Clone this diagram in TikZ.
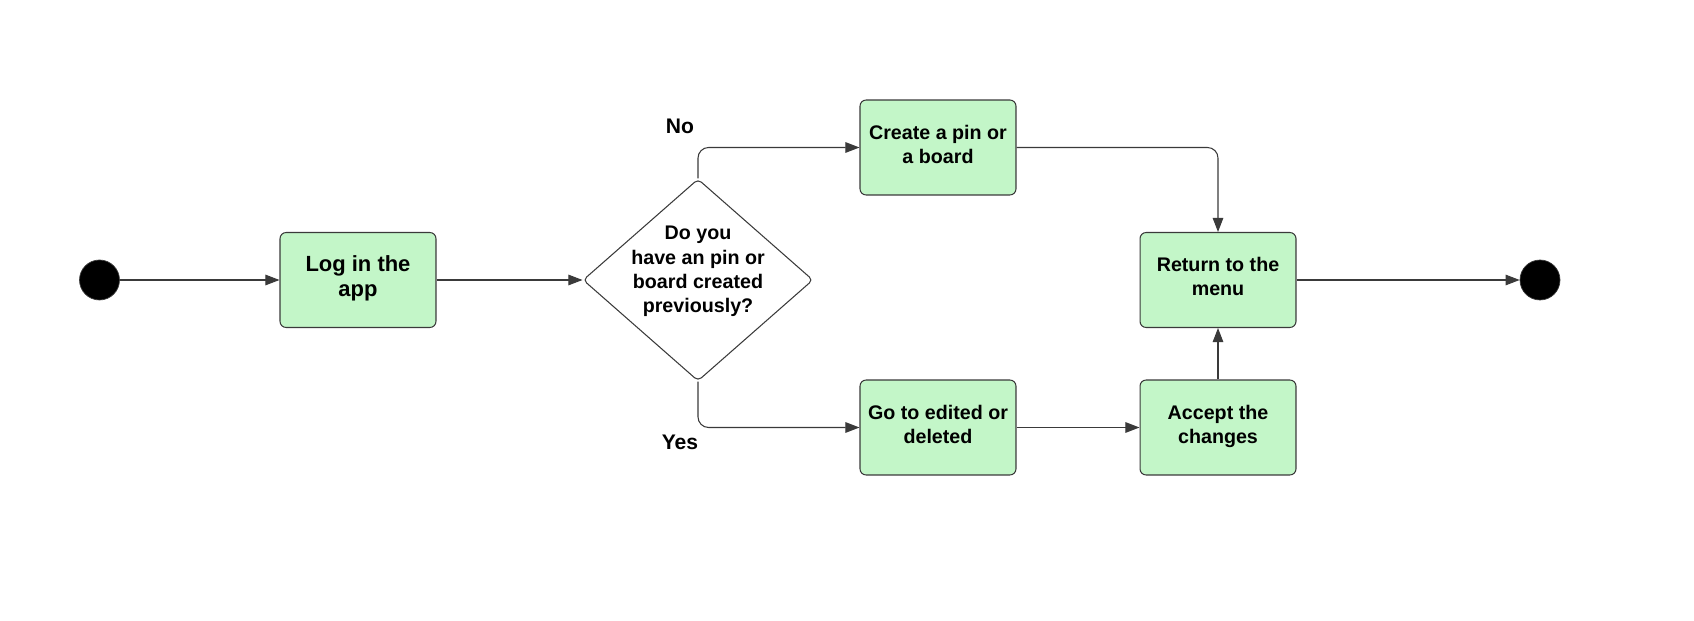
\documentclass[tikz,border=0pt]{standalone}
\usepackage{fontspec}
\setmainfont{Liberation Sans}
\usetikzlibrary{shapes.geometric,arrows.meta}
\definecolor{boxgreen}{HTML}{C3F6C8}
\definecolor{edgegray}{HTML}{3A3A3A}
\tikzset{
  act/.style={draw=edgegray, fill=boxgreen, rounded corners=3.5pt, line width=0.6pt,
    minimum width=3.12cm, minimum height=1.9cm, inner sep=0pt, align=center, text depth=4pt,
    font=\fontsize{11.2}{13.6}\selectfont\bfseries},
  decision/.style={draw=edgegray, diamond, aspect=1.14, rounded corners=2.5pt, line width=0.6pt,
    minimum width=4.6cm, minimum height=4.04cm, inner sep=0pt},
  term/.style={circle, draw=edgegray, fill=black, minimum size=0.8cm, inner sep=0pt},
  lbl/.style={font=\fontsize{12}{14}\selectfont\bfseries},
  flow/.style={->, draw=edgegray, line width=0.6pt}
}
\begin{document}
\begin{tikzpicture}[x=0.02cm, y=-0.02cm, >={Triangle[length=8pt,width=6pt]}]
  \useasboundingbox (0,0) rectangle (1694,621);
  % states
  \node[term] (start) at (99.5,280) {};
  \node[act, font=\fontsize{12.5}{14.2}\selectfont\bfseries] (login) at (358,280) {Log in the\\app};
  \node[decision, label={[lbl, font=\fontsize{11.2}{13.8}\selectfont\bfseries, align=center, yshift=4.8pt]center:Do you\\have an pin or\\board created\\previously?}] (dia) at (698,280) {};
  \node[act] (create) at (938,147.5) {Create a pin or\\a board};
  \node[act] (edit) at (938,427.5) {Go to edited or\\deleted};
  \node[act] (accept) at (1218,427.5) {Accept the\\changes};
  \node[act] (menu) at (1218,280) {Return to the\\menu};
  \node[term] (stop) at (1540,280) {};
  \node[lbl] (no) at (680,126.5) {No};
  \node[lbl] (yes) at (680,442) {Yes};
  % transitions
  \draw[flow] (start) -- (login);
  \draw[flow] (login) -- (dia.west);
  \draw[flow, rounded corners=6pt] (dia.north) |- (create.west);
  \draw[flow, rounded corners=6pt] (dia.south) |- (edit.west);
  \draw[flow, rounded corners=6pt] (create.east) -| (menu.north);
  \draw[flow] (edit) -- (accept);
  \draw[flow] (accept) -- (menu);
  \draw[flow] (menu) -- (stop);
\end{tikzpicture}
\end{document}
